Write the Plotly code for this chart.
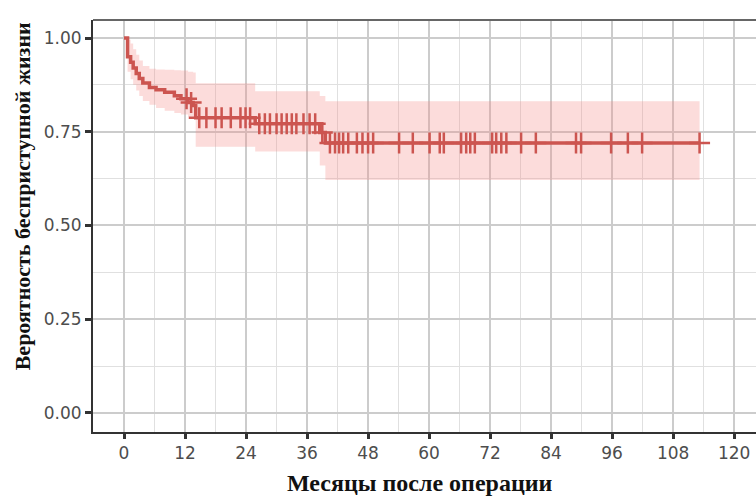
import plotly.graph_objects as go

# Kaplan-Meier estimate: step times (months) and survival after each step
step_times = [0.0, 0.7, 1.3, 1.8, 2.4, 3.0, 3.7, 5.0, 6.3, 8.0, 9.9, 11.2,
              12.6, 13.6, 14.1, 25.8, 38.5, 39.6, 113.2]
surv = [1.000, 0.950, 0.935, 0.920, 0.905, 0.892, 0.880, 0.868, 0.862, 0.855,
        0.846, 0.838, 0.828, 0.820, 0.787, 0.771, 0.748, 0.720, 0.720]
ci_upper = [1.000, 0.995, 0.985, 0.970, 0.955, 0.940, 0.925, 0.918, 0.916,
            0.915, 0.914, 0.913, 0.910, 0.908, 0.879, 0.858, 0.845, 0.831, 0.831]
ci_lower = [1.000, 0.910, 0.890, 0.875, 0.860, 0.845, 0.832, 0.822, 0.813,
            0.806, 0.800, 0.796, 0.790, 0.785, 0.710, 0.697, 0.660, 0.621, 0.621]

# Censored observations
censor_times = [12.3, 13.2,
                14.8, 16.2, 18.0, 19.2, 21.0, 22.9, 23.9, 24.8,
                26.6, 27.7, 28.7, 30.0, 31.0, 32.0, 33.0, 33.9, 35.3, 36.5, 37.6,
                39.0,
                40.5, 41.5, 42.3, 43.1, 44.1, 45.8, 46.9, 48.0, 49.0, 54.1, 56.8,
                60.1, 62.1, 62.9, 66.3, 67.3, 68.1, 69.0, 72.4, 73.2, 74.2, 75.2,
                78.1, 81.0, 88.9, 89.9, 95.8, 99.1, 101.9, 113.2]

x_ticks = list(range(0, 121, 12))
y_ticks = [0.0, 0.25, 0.5, 0.75, 1.0]
y_tick_text = ["0.00", "0.25", "0.50", "0.75", "1.00"]


def surv_at(t):
    val = surv[0]
    for ts, s in zip(step_times, surv):
        if ts <= t:
            val = s
    return val


censor_surv = [surv_at(t) for t in censor_times]

line_color = "#CC5550"
band_color = "rgba(246,140,135,0.30)"

fig = go.Figure()

fig.add_trace(go.Scatter(
    x=step_times, y=ci_lower, mode="lines", line=dict(width=0, shape="hv"),
    hoverinfo="skip", showlegend=False))
fig.add_trace(go.Scatter(
    x=step_times, y=ci_upper, mode="lines", line=dict(width=0, shape="hv"),
    fill="tonexty", fillcolor=band_color, hoverinfo="skip", showlegend=False))

fig.add_trace(go.Scatter(
    x=step_times, y=surv, mode="lines",
    line=dict(color=line_color, width=3.5, shape="hv"), showlegend=False))

fig.add_trace(go.Scatter(
    x=censor_times, y=censor_surv, mode="markers",
    marker=dict(symbol="cross-thin", size=15,
                line=dict(color=line_color, width=2.5)),
    showlegend=False))

axis_font = dict(family="DejaVu Sans", size=17, color="#4D4D4D")

fig.update_xaxes(
    range=[-6.1, 124.3], tickvals=x_ticks, ticks="outside", ticklen=5,
    tickwidth=2.5, tickcolor="#333333", tickfont=axis_font,
    showline=True, linecolor="#333333", linewidth=2,
    showgrid=True, gridcolor="#CCCCCC", gridwidth=1.6, zeroline=False,
    minor=dict(dtick=6, tick0=0, showgrid=True, gridcolor="#E0E0E0",
               gridwidth=1.2, ticklen=0))
fig.update_yaxes(
    range=[-0.0507, 1.048], tickvals=y_ticks, ticktext=y_tick_text,
    ticks="outside", ticklen=6, tickwidth=2.5, tickcolor="#333333",
    tickfont=axis_font,
    showline=True, linecolor="#333333", linewidth=2,
    showgrid=True, gridcolor="#CCCCCC", gridwidth=1.6, zeroline=False,
    minor=dict(dtick=0.125, tick0=0, showgrid=True, gridcolor="#E0E0E0",
               gridwidth=1.2, ticklen=0))

# Panel border along the top
fig.add_shape(type="line", xref="paper", yref="paper", x0=0, x1=1, y0=1, y1=1,
              line=dict(color="#666666", width=2))

fig.add_annotation(text="<b>Месяцы после операции</b>", xref="paper",
                   yref="paper", x=0.493, y=-0.124, showarrow=False,
                   font=dict(family="Liberation Serif", size=24, color="#111111"),
                   xanchor="center", yanchor="middle")
fig.add_annotation(text="<b>Вероятность бесприступной жизни</b>",
                   xref="paper", yref="paper", x=-0.105, y=0.573,
                   showarrow=False,
                   font=dict(family="Liberation Serif", size=22, color="#111111"),
                   textangle=-90, xanchor="center", yanchor="middle")

fig.update_layout(
    width=756, height=498,
    margin=dict(l=93, r=0, t=20, b=66),
    paper_bgcolor="white", plot_bgcolor="white",
)

fig.write_html("out.html")
